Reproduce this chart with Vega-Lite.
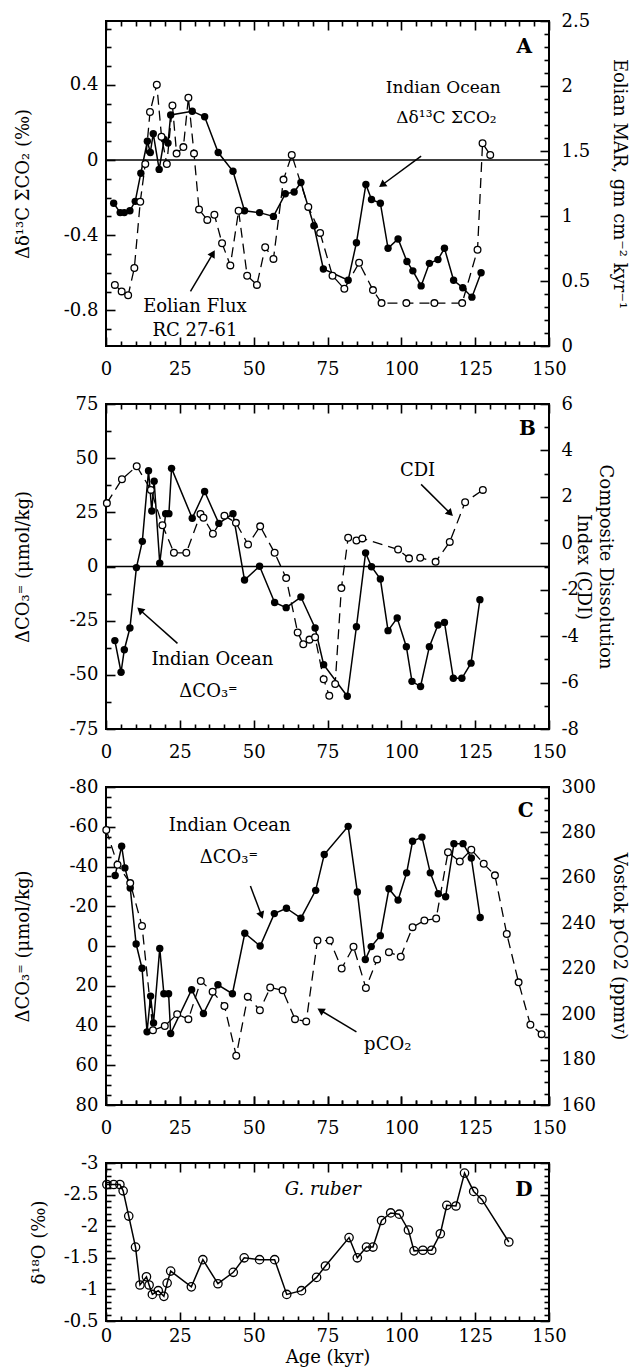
{
  "$schema": "https://vega.github.io/schema/vega-lite/v6.json",
  "padding": {"left": 13, "top": 11, "right": 5, "bottom": 5},
  "background": "white",
  "datasets": {
    "a_d13c": [{"age":2.6,"v":-0.23},{"age":4.8,"v":-0.28},{"age":6.2,"v":-0.28},{"age":8.1,"v":-0.27},{"age":9.9,"v":-0.22},{"age":11.8,"v":-0.07},{"age":14.0,"v":0.10},{"age":15.0,"v":0.04},{"age":16.0,"v":0.14},{"age":18.0,"v":-0.05},{"age":19.7,"v":0.11},{"age":21.0,"v":0.09},{"age":21.9,"v":0.24},{"age":29.2,"v":0.26},{"age":33.4,"v":0.23},{"age":38.0,"v":0.04},{"age":43.0,"v":-0.06},{"age":46.9,"v":-0.27},{"age":52.0,"v":-0.28},{"age":56.7,"v":-0.30},{"age":60.7,"v":-0.18},{"age":63.7,"v":-0.17},{"age":66.0,"v":-0.12},{"age":70.4,"v":-0.35},{"age":73.6,"v":-0.58},{"age":82.0,"v":-0.64},{"age":84.8,"v":-0.44},{"age":88.0,"v":-0.13},{"age":89.9,"v":-0.21},{"age":92.9,"v":-0.23},{"age":95.5,"v":-0.47},{"age":98.9,"v":-0.42},{"age":101.9,"v":-0.54},{"age":103.9,"v":-0.59},{"age":106.7,"v":-0.67},{"age":109.5,"v":-0.55},{"age":112.4,"v":-0.53},{"age":114.6,"v":-0.47},{"age":117.7,"v":-0.64},{"age":120.8,"v":-0.68},{"age":123.9,"v":-0.73},{"age":127.0,"v":-0.60}],
    "a_eol": [{"age":3.0,"v":0.47},{"age":5.3,"v":0.42},{"age":7.5,"v":0.39},{"age":9.6,"v":0.60},{"age":11.6,"v":1.11},{"age":13.3,"v":1.40},{"age":14.9,"v":1.80},{"age":17.2,"v":2.01},{"age":18.8,"v":1.61},{"age":20.6,"v":1.40},{"age":22.5,"v":1.85},{"age":23.9,"v":1.48},{"age":26.2,"v":1.53},{"age":27.9,"v":1.91},{"age":29.8,"v":1.48},{"age":31.5,"v":1.05},{"age":34.3,"v":0.97},{"age":36.7,"v":1.01},{"age":39.3,"v":0.79},{"age":42.1,"v":0.62},{"age":44.9,"v":1.04},{"age":47.8,"v":0.54},{"age":51.1,"v":0.47},{"age":53.9,"v":0.76},{"age":56.7,"v":0.67},{"age":60.1,"v":1.28},{"age":62.9,"v":1.47},{"age":68.5,"v":1.07},{"age":72.5,"v":0.87},{"age":76.7,"v":0.54},{"age":80.7,"v":0.44},{"age":85.7,"v":0.64},{"age":90.4,"v":0.43},{"age":93.3,"v":0.33},{"age":101.7,"v":0.33},{"age":111.2,"v":0.33},{"age":120.6,"v":0.33},{"age":125.8,"v":0.74},{"age":127.5,"v":1.56},{"age":130.1,"v":1.47}],
    "b_co3": [{"age":3.0,"v":-34.2},{"age":5.1,"v":-48.8},{"age":6.2,"v":-38.4},{"age":8.1,"v":-28.4},{"age":10.3,"v":-0.5},{"age":12.3,"v":11.6},{"age":14.4,"v":44.2},{"age":15.5,"v":25.6},{"age":16.3,"v":39.4},{"age":18.2,"v":1.5},{"age":20.2,"v":24.4},{"age":21.3,"v":24.4},{"age":22.2,"v":45.3},{"age":29.2,"v":22.3},{"age":33.4,"v":34.6},{"age":38.2,"v":19.9},{"age":43.0,"v":24.4},{"age":46.9,"v":-6.2},{"age":52.0,"v":0.1},{"age":57.1,"v":-16.6},{"age":61.0,"v":-19},{"age":66.0,"v":-14.1},{"age":70.8,"v":-28.4},{"age":73.7,"v":-45.3},{"age":81.7,"v":-59.9},{"age":84.8,"v":-27.8},{"age":87.9,"v":6.3},{"age":89.9,"v":-0.1},{"age":92.9,"v":-5.8},{"age":95.5,"v":-29.6},{"age":98.6,"v":-23.8},{"age":101.7,"v":-37},{"age":103.6,"v":-53},{"age":106.5,"v":-55.4},{"age":109.5,"v":-37},{"age":112.4,"v":-27},{"age":114.6,"v":-25.8},{"age":117.6,"v":-51.6},{"age":120.5,"v":-51.6},{"age":123.6,"v":-44.6},{"age":126.6,"v":-15.3}],
    "b_cdi": [{"age":0.3,"v":1.73},{"age":5.4,"v":2.76},{"age":10.4,"v":3.32},{"age":15.2,"v":2.3},{"age":19.1,"v":0.78},{"age":23.0,"v":-0.41},{"age":27.2,"v":-0.41},{"age":32.0,"v":1.26},{"age":33.0,"v":1.1},{"age":36.2,"v":0.41},{"age":40.1,"v":1.19},{"age":44.0,"v":0.88},{"age":48.1,"v":-0.05},{"age":52.2,"v":0.73},{"age":57.1,"v":-0.41},{"age":61.0,"v":-1.5},{"age":64.9,"v":-3.84},{"age":66.8,"v":-4.35},{"age":68.9,"v":-4.15},{"age":70.8,"v":-4.05},{"age":73.7,"v":-5.86},{"age":75.6,"v":-6.57},{"age":77.6,"v":-6.06},{"age":79.7,"v":-1.93},{"age":82.0,"v":0.24},{"age":84.8,"v":0.12},{"age":86.8,"v":0.21},{"age":98.9,"v":-0.27},{"age":102.6,"v":-0.65},{"age":106.4,"v":-0.62},{"age":111.6,"v":-0.8},{"age":116.4,"v":0.06},{"age":121.6,"v":1.77},{"age":127.6,"v":2.3}],
    "c_co3": [{"age":3.1,"v":-35.5},{"age":5.3,"v":-50.2},{"age":6.4,"v":-39.3},{"age":8.2,"v":-29.2},{"age":10.2,"v":-1},{"age":12.2,"v":11.2},{"age":13.9,"v":43.2},{"age":15.1,"v":25.2},{"age":16.1,"v":38.7},{"age":18.2,"v":1.2},{"age":19.6,"v":24},{"age":21.2,"v":24},{"age":21.9,"v":44},{"age":29.0,"v":22},{"age":33.0,"v":34},{"age":37.9,"v":19.5},{"age":42.8,"v":24},{"age":47.0,"v":-6.4},{"age":52.2,"v":0},{"age":57.0,"v":-16.3},{"age":61.1,"v":-19},{"age":66.0,"v":-14},{"age":71.0,"v":-28},{"age":73.9,"v":-46},{"age":82.0,"v":-60.2},{"age":85.1,"v":-27.2},{"age":87.8,"v":6.8},{"age":89.8,"v":0.3},{"age":92.9,"v":-5.2},{"age":95.8,"v":-28.8},{"age":98.9,"v":-23.1},{"age":101.8,"v":-36.8},{"age":103.8,"v":-52.7},{"age":107.0,"v":-54.8},{"age":109.8,"v":-36.8},{"age":112.5,"v":-26.3},{"age":115.0,"v":-24.8},{"age":117.8,"v":-51.5},{"age":120.9,"v":-51.5},{"age":123.7,"v":-44.3},{"age":126.7,"v":-14.3}],
    "c_pco2": [{"age":0.1,"v":281.1},{"age":3.9,"v":265.8},{"age":8.2,"v":257.7},{"age":12.2,"v":238.8},{"age":15.9,"v":192.9},{"age":19.9,"v":194.8},{"age":24.1,"v":200},{"age":27.9,"v":197.8},{"age":32.1,"v":214.6},{"age":36.1,"v":209.9},{"age":40.1,"v":203.6},{"age":44.1,"v":181.7},{"age":48.0,"v":207.7},{"age":52.1,"v":201.7},{"age":55.6,"v":211.7},{"age":59.8,"v":210.5},{"age":64.0,"v":197.8},{"age":67.8,"v":196.8},{"age":71.6,"v":232.4},{"age":75.8,"v":232.4},{"age":79.8,"v":220.1},{"age":83.8,"v":229.7},{"age":88.0,"v":211.5},{"age":91.8,"v":224.1},{"age":95.8,"v":227.3},{"age":99.8,"v":225.3},{"age":103.8,"v":238.3},{"age":107.8,"v":241.2},{"age":111.8,"v":242.1},{"age":115.8,"v":271.3},{"age":119.8,"v":267.2},{"age":123.7,"v":272.4},{"age":127.9,"v":266.2},{"age":131.7,"v":261.1},{"age":135.7,"v":235.3},{"age":139.7,"v":214},{"age":143.7,"v":195.3},{"age":147.5,"v":191.2}],
    "d_o18": [{"age":0.3,"v":-2.66},{"age":2.6,"v":-2.66},{"age":4.7,"v":-2.66},{"age":5.8,"v":-2.56},{"age":7.7,"v":-2.16},{"age":10.0,"v":-1.67},{"age":11.5,"v":-1.07},{"age":13.7,"v":-1.2},{"age":14.6,"v":-1.07},{"age":15.7,"v":-0.92},{"age":17.7,"v":-0.98},{"age":19.6,"v":-0.89},{"age":20.7,"v":-1.1},{"age":21.9,"v":-1.29},{"age":28.9,"v":-1.04},{"age":32.8,"v":-1.47},{"age":37.9,"v":-1.09},{"age":43.1,"v":-1.27},{"age":46.8,"v":-1.5},{"age":52.0,"v":-1.47},{"age":57.1,"v":-1.47},{"age":61.2,"v":-0.92},{"age":66.2,"v":-0.98},{"age":71.3,"v":-1.19},{"age":74.3,"v":-1.37},{"age":82.3,"v":-1.82},{"age":85.1,"v":-1.5},{"age":88.2,"v":-1.67},{"age":90.4,"v":-1.67},{"age":93.3,"v":-2.09},{"age":96.4,"v":-2.21},{"age":99.3,"v":-2.19},{"age":102.4,"v":-1.94},{"age":104.3,"v":-1.61},{"age":107.3,"v":-1.62},{"age":110.3,"v":-1.62},{"age":113.2,"v":-1.88},{"age":115.4,"v":-2.33},{"age":118.5,"v":-2.32},{"age":121.4,"v":-2.84},{"age":124.5,"v":-2.55},{"age":127.3,"v":-2.42},{"age":136.4,"v":-1.75}]
  },
  "spacing": 58,
  "bounds": "flush",
  "vconcat": [
    {
      "width": 443, "height": 325,
      "resolve": {"scale": {"y": "independent"}, "axis": {"x": "independent", "y": "independent"}},
      "layer": [
        {"layer": [
          {"data": {"name": "a_d13c"}, "mark": {"type": "line", "color": "black", "strokeWidth": 1.5},
           "encoding": {
             "x": {"field": "age", "type": "quantitative", "scale": {"domain": [0, 150], "nice": false},
                   "axis": {"orient": "bottom", "title": null, "values": [0,5,10,15,20,25,30,35,40,45,50,55,60,65,70,75,80,85,90,95,100,105,110,115,120,125,130,135,140,145,150], "tickCount": 100, "labelExpr": "datum.value % 25 === 0 ? toString(datum.value) : ''", "labelPadding": 14, "grid": true, "gridDash": {"condition": {"test": "datum.value % 25 === 0", "value": [9, 2000]}, "value": [5, 2000]}}},
             "y": {"field": "v", "type": "quantitative", "scale": {"domain": [-0.99, 0.74], "nice": false, "zero": false},
                   "axis": {"orient": "left", "title": "Δδ¹³C ΣCO₂ (‰)", "titleX": -83, "titleBaseline": "middle", "values": [-0.9,-0.8,-0.7,-0.6,-0.5,-0.4,-0.3,-0.2,-0.1,0,0.1,0.2,0.3,0.4,0.5,0.6,0.7], "tickCount": 100, "labelExpr": "abs(datum.value/0.4 - round(datum.value/0.4)) < 0.000001 ? toString(datum.value) : ''", "labelPadding": 8, "grid": true, "gridDash": {"condition": {"test": "abs(datum.value/0.4 - round(datum.value/0.4)) < 0.000001", "value": [9, 2000]}, "value": [5, 2000]}}}
           }},
          {"data": {"name": "a_d13c"}, "mark": {"type": "point", "filled": true, "color": "black", "size": 55, "opacity": 1},
           "encoding": {"x": {"field": "age", "type": "quantitative"}, "y": {"field": "v", "type": "quantitative"}}},
          {"data": {"values": [{}]}, "mark": {"type": "rule", "color": "black", "strokeWidth": 1.5}, "encoding": {"y": {"datum": 0, "type": "quantitative"}}},
          {"data": {"values": [{}]}, "mark": {"type": "text", "text": "Indian Ocean", "fontSize": 17}, "encoding": {"x": {"datum": 114.2, "type": "quantitative"}, "y": {"datum": 0.382, "type": "quantitative"}}},
          {"data": {"values": [{}]}, "mark": {"type": "text", "text": "Δδ¹³C ΣCO₂", "fontSize": 17}, "encoding": {"x": {"datum": 115.3, "type": "quantitative"}, "y": {"datum": 0.226, "type": "quantitative"}}},
          {"data": {"values": [{}]}, "mark": {"type": "text", "text": "Eolian Flux", "fontSize": 18}, "encoding": {"x": {"datum": 30.1, "type": "quantitative"}, "y": {"datum": -0.784, "type": "quantitative"}}},
          {"data": {"values": [{}]}, "mark": {"type": "text", "text": "RC 27-61", "fontSize": 18}, "encoding": {"x": {"datum": 30.1, "type": "quantitative"}, "y": {"datum": -0.912, "type": "quantitative"}}},
          {"data": {"values": [{}]}, "mark": {"type": "text", "text": "A", "fontSize": 20, "fontWeight": "bold"}, "encoding": {"x": {"datum": 141.6, "type": "quantitative"}, "y": {"datum": 0.599, "type": "quantitative"}}},
          {"data": {"values": [{}]}, "mark": {"type": "rule", "color": "black", "strokeWidth": 1.5}, "encoding": {"x": {"datum": 106.7, "type": "quantitative"}, "y": {"datum": 0.021, "type": "quantitative"}, "x2": {"datum": 93.8}, "y2": {"datum": -0.129}}},
          {"data": {"values": [{}]}, "mark": {"type": "point", "shape": "triangle", "angle": 233.6, "filled": true, "color": "black", "size": 70, "opacity": 1}, "encoding": {"x": {"datum": 93.8, "type": "quantitative"}, "y": {"datum": -0.129, "type": "quantitative"}}},
          {"data": {"values": [{}]}, "mark": {"type": "rule", "color": "black", "strokeWidth": 1.5}, "encoding": {"x": {"datum": 28.6, "type": "quantitative"}, "y": {"datum": -0.699, "type": "quantitative"}, "x2": {"datum": 36.0}, "y2": {"datum": -0.503}}},
          {"data": {"values": [{}]}, "mark": {"type": "point", "shape": "triangle", "angle": 30.6, "filled": true, "color": "black", "size": 70, "opacity": 1}, "encoding": {"x": {"datum": 36.0, "type": "quantitative"}, "y": {"datum": -0.503, "type": "quantitative"}}}
        ]},
        {"layer": [
          {"data": {"name": "a_eol"}, "mark": {"type": "line", "color": "black", "strokeWidth": 1.3, "strokeDash": [10, 6]},
           "encoding": {
             "x": {"field": "age", "type": "quantitative", "scale": {"domain": [0, 150], "nice": false},
                   "axis": {"orient": "top", "title": null, "labels": false, "values": [0,5,10,15,20,25,30,35,40,45,50,55,60,65,70,75,80,85,90,95,100,105,110,115,120,125,130,135,140,145,150], "tickCount": 100, "grid": true, "gridDash": {"condition": {"test": "datum.value % 25 === 0", "value": [9, 2000]}, "value": [5, 2000]}}},
             "y": {"field": "v", "type": "quantitative", "scale": {"domain": [0, 2.5], "nice": false},
                   "axis": {"orient": "right", "title": "Eolian MAR, gm cm⁻² kyr⁻¹", "titleX": 69, "titleBaseline": "middle", "titleAngle": 90, "values": [0,0.1,0.2,0.3,0.4,0.5,0.6,0.7,0.8,0.9,1,1.1,1.2,1.3,1.4,1.5,1.6,1.7,1.8,1.9,2,2.1,2.2,2.3,2.4,2.5], "tickCount": 100, "labelExpr": "abs(datum.value*2 - round(datum.value*2)) < 0.000001 ? toString(datum.value) : ''", "labelPadding": 12, "grid": true, "gridDash": {"condition": {"test": "abs(datum.value*2 - round(datum.value*2)) < 0.000001", "value": [9, 2000]}, "value": [5, 2000]}}}
           }},
          {"data": {"name": "a_eol"}, "mark": {"type": "point", "filled": true, "fill": "white", "stroke": "black", "strokeWidth": 1.3, "size": 45, "opacity": 1},
           "encoding": {"x": {"field": "age", "type": "quantitative"}, "y": {"field": "v", "type": "quantitative"}}}
        ]}
      ]
    },
    {
      "width": 443, "height": 325,
      "resolve": {"scale": {"y": "independent"}, "axis": {"x": "independent", "y": "independent"}},
      "layer": [
        {"layer": [
          {"data": {"name": "b_co3"}, "mark": {"type": "line", "color": "black", "strokeWidth": 1.5},
           "encoding": {
             "x": {"field": "age", "type": "quantitative", "scale": {"domain": [0, 150], "nice": false},
                   "axis": {"orient": "bottom", "title": null, "values": [0,5,10,15,20,25,30,35,40,45,50,55,60,65,70,75,80,85,90,95,100,105,110,115,120,125,130,135,140,145,150], "tickCount": 100, "labelExpr": "datum.value % 25 === 0 ? toString(datum.value) : ''", "labelPadding": 14, "grid": true, "gridDash": {"condition": {"test": "datum.value % 25 === 0", "value": [9, 2000]}, "value": [5, 2000]}}},
             "y": {"field": "v", "type": "quantitative", "scale": {"domain": [-75, 75], "nice": false},
                   "axis": {"orient": "left", "title": "ΔCO₃⁼ (μmol/kg)", "titleX": -83, "titleBaseline": "middle", "values": [-75,-62.5,-50,-37.5,-25,-12.5,0,12.5,25,37.5,50,62.5,75], "tickCount": 100, "labelExpr": "datum.value % 25 === 0 ? toString(datum.value) : ''", "labelPadding": 8, "grid": true, "gridDash": {"condition": {"test": "datum.value % 25 === 0", "value": [9, 2000]}, "value": [5, 2000]}}}
           }},
          {"data": {"name": "b_co3"}, "mark": {"type": "point", "filled": true, "color": "black", "size": 55, "opacity": 1},
           "encoding": {"x": {"field": "age", "type": "quantitative"}, "y": {"field": "v", "type": "quantitative"}}},
          {"data": {"values": [{}]}, "mark": {"type": "rule", "color": "black", "strokeWidth": 1.5}, "encoding": {"y": {"datum": 0, "type": "quantitative"}}},
          {"data": {"values": [{}]}, "mark": {"type": "text", "text": "B", "fontSize": 20, "fontWeight": "bold"}, "encoding": {"x": {"datum": 142.7, "type": "quantitative"}, "y": {"datum": 63.3, "type": "quantitative"}}},
          {"data": {"values": [{}]}, "mark": {"type": "text", "text": "CDI", "fontSize": 18}, "encoding": {"x": {"datum": 105.5, "type": "quantitative"}, "y": {"datum": 44.2, "type": "quantitative"}}},
          {"data": {"values": [{}]}, "mark": {"type": "text", "text": "Indian Ocean", "fontSize": 18}, "encoding": {"x": {"datum": 36.0, "type": "quantitative"}, "y": {"datum": -43.3, "type": "quantitative"}}},
          {"data": {"values": [{}]}, "mark": {"type": "text", "text": "ΔCO₃⁼", "fontSize": 18}, "encoding": {"x": {"datum": 34.7, "type": "quantitative"}, "y": {"datum": -58.1, "type": "quantitative"}}},
          {"data": {"values": [{}]}, "mark": {"type": "rule", "color": "black", "strokeWidth": 1.5}, "encoding": {"x": {"datum": 106.7, "type": "quantitative"}, "y": {"datum": 37.9, "type": "quantitative"}, "x2": {"datum": 116.3}, "y2": {"datum": 24.9}}},
          {"data": {"values": [{}]}, "mark": {"type": "point", "shape": "triangle", "angle": 135, "filled": true, "color": "black", "size": 70, "opacity": 1}, "encoding": {"x": {"datum": 116.3, "type": "quantitative"}, "y": {"datum": 24.9, "type": "quantitative"}}},
          {"data": {"values": [{}]}, "mark": {"type": "rule", "color": "black", "strokeWidth": 1.5}, "encoding": {"x": {"datum": 24.2, "type": "quantitative"}, "y": {"datum": -35.5, "type": "quantitative"}, "x2": {"datum": 11.8}, "y2": {"datum": -20.4}}},
          {"data": {"values": [{}]}, "mark": {"type": "point", "shape": "triangle", "angle": 311.7, "filled": true, "color": "black", "size": 70, "opacity": 1}, "encoding": {"x": {"datum": 11.8, "type": "quantitative"}, "y": {"datum": -20.4, "type": "quantitative"}}}
        ]},
        {"layer": [
          {"data": {"name": "b_cdi"}, "mark": {"type": "line", "color": "black", "strokeWidth": 1.3, "strokeDash": [10, 6]},
           "encoding": {
             "x": {"field": "age", "type": "quantitative", "scale": {"domain": [0, 150], "nice": false},
                   "axis": {"orient": "top", "title": null, "labels": false, "values": [0,5,10,15,20,25,30,35,40,45,50,55,60,65,70,75,80,85,90,95,100,105,110,115,120,125,130,135,140,145,150], "tickCount": 100, "grid": true, "gridDash": {"condition": {"test": "datum.value % 25 === 0", "value": [9, 2000]}, "value": [5, 2000]}}},
             "y": {"field": "v", "type": "quantitative", "scale": {"domain": [-8, 6], "nice": false, "zero": false},
                   "axis": {"orient": "right", "title": ["Composite Dissolution", "Index (CDI)"], "titleX": 55, "titleBaseline": "middle", "titleAngle": 90, "titleLineHeight": 22, "values": [-8,-7,-6,-5,-4,-3,-2,-1,0,1,2,3,4,5,6], "tickCount": 100, "labelExpr": "datum.value % 2 === 0 ? toString(datum.value) : ''", "labelPadding": 12, "grid": true, "gridDash": {"condition": {"test": "datum.value % 2 === 0", "value": [9, 2000]}, "value": [5, 2000]}}}
           }},
          {"data": {"name": "b_cdi"}, "mark": {"type": "point", "filled": true, "fill": "white", "stroke": "black", "strokeWidth": 1.3, "size": 45, "opacity": 1},
           "encoding": {"x": {"field": "age", "type": "quantitative"}, "y": {"field": "v", "type": "quantitative"}}}
        ]}
      ]
    },
    {
      "width": 443, "height": 318,
      "resolve": {"scale": {"y": "independent"}, "axis": {"x": "independent", "y": "independent"}},
      "layer": [
        {"layer": [
          {"data": {"name": "c_co3"}, "mark": {"type": "line", "color": "black", "strokeWidth": 1.5},
           "encoding": {
             "x": {"field": "age", "type": "quantitative", "scale": {"domain": [0, 150], "nice": false},
                   "axis": {"orient": "bottom", "title": null, "values": [0,5,10,15,20,25,30,35,40,45,50,55,60,65,70,75,80,85,90,95,100,105,110,115,120,125,130,135,140,145,150], "tickCount": 100, "labelExpr": "datum.value % 25 === 0 ? toString(datum.value) : ''", "labelPadding": 14, "grid": true, "gridDash": {"condition": {"test": "datum.value % 25 === 0", "value": [9, 2000]}, "value": [5, 2000]}}},
             "y": {"field": "v", "type": "quantitative", "scale": {"domain": [-80, 80], "nice": false, "reverse": true},
                   "axis": {"orient": "left", "title": "ΔCO₃⁼ (μmol/kg)", "titleX": -83, "titleBaseline": "middle", "values": [-80,-75,-70,-65,-60,-55,-50,-45,-40,-35,-30,-25,-20,-15,-10,-5,0,5,10,15,20,25,30,35,40,45,50,55,60,65,70,75,80], "tickCount": 100, "labelExpr": "datum.value % 20 === 0 ? toString(datum.value) : ''", "labelPadding": 8, "grid": true, "gridDash": {"condition": {"test": "datum.value % 20 === 0", "value": [9, 2000]}, "value": [5, 2000]}}}
           }},
          {"data": {"name": "c_co3"}, "mark": {"type": "point", "filled": true, "color": "black", "size": 55, "opacity": 1},
           "encoding": {"x": {"field": "age", "type": "quantitative"}, "y": {"field": "v", "type": "quantitative"}}},
          {"data": {"values": [{}]}, "mark": {"type": "text", "text": "C", "fontSize": 20, "fontWeight": "bold"}, "encoding": {"x": {"datum": 142.1, "type": "quantitative"}, "y": {"datum": -67.7, "type": "quantitative"}}},
          {"data": {"values": [{}]}, "mark": {"type": "text", "text": "Indian Ocean", "fontSize": 18}, "encoding": {"x": {"datum": 41.9, "type": "quantitative"}, "y": {"datum": -60.2, "type": "quantitative"}}},
          {"data": {"values": [{}]}, "mark": {"type": "text", "text": "ΔCO₃⁼", "fontSize": 18}, "encoding": {"x": {"datum": 41.6, "type": "quantitative"}, "y": {"datum": -44.4, "type": "quantitative"}}},
          {"data": {"values": [{}]}, "mark": {"type": "text", "text": "pCO₂", "fontSize": 18}, "encoding": {"x": {"datum": 95.4, "type": "quantitative"}, "y": {"datum": 49.9, "type": "quantitative"}}},
          {"data": {"values": [{}]}, "mark": {"type": "rule", "color": "black", "strokeWidth": 1.5}, "encoding": {"x": {"datum": 48.9, "type": "quantitative"}, "y": {"datum": -30.2, "type": "quantitative"}, "x2": {"datum": 52.5}, "y2": {"datum": -16}}},
          {"data": {"values": [{}]}, "mark": {"type": "point", "shape": "triangle", "angle": 159.3, "filled": true, "color": "black", "size": 70, "opacity": 1}, "encoding": {"x": {"datum": 52.5, "type": "quantitative"}, "y": {"datum": -16, "type": "quantitative"}}},
          {"data": {"values": [{}]}, "mark": {"type": "rule", "color": "black", "strokeWidth": 1.5}, "encoding": {"x": {"datum": 84.8, "type": "quantitative"}, "y": {"datum": 43.2, "type": "quantitative"}, "x2": {"datum": 73.0}, "y2": {"datum": 32.7}}},
          {"data": {"values": [{}]}, "mark": {"type": "point", "shape": "triangle", "angle": 301, "filled": true, "color": "black", "size": 70, "opacity": 1}, "encoding": {"x": {"datum": 73.0, "type": "quantitative"}, "y": {"datum": 32.7, "type": "quantitative"}}}
        ]},
        {"layer": [
          {"data": {"name": "c_pco2"}, "mark": {"type": "line", "color": "black", "strokeWidth": 1.3, "strokeDash": [10, 6]},
           "encoding": {
             "x": {"field": "age", "type": "quantitative", "scale": {"domain": [0, 150], "nice": false},
                   "axis": {"orient": "top", "title": null, "labels": false, "values": [0,5,10,15,20,25,30,35,40,45,50,55,60,65,70,75,80,85,90,95,100,105,110,115,120,125,130,135,140,145,150], "tickCount": 100, "grid": true, "gridDash": {"condition": {"test": "datum.value % 25 === 0", "value": [9, 2000]}, "value": [5, 2000]}}},
             "y": {"field": "v", "type": "quantitative", "scale": {"domain": [160, 300], "nice": false, "zero": false},
                   "axis": {"orient": "right", "title": "Vostok pCO2 (ppmv)", "titleX": 69, "titleBaseline": "middle", "titleAngle": 90, "values": [160,165,170,175,180,185,190,195,200,205,210,215,220,225,230,235,240,245,250,255,260,265,270,275,280,285,290,295,300], "tickCount": 100, "labelExpr": "datum.value % 20 === 0 ? toString(datum.value) : ''", "labelPadding": 12, "grid": true, "gridDash": {"condition": {"test": "datum.value % 20 === 0", "value": [9, 2000]}, "value": [5, 2000]}}}
           }},
          {"data": {"name": "c_pco2"}, "mark": {"type": "point", "filled": true, "fill": "white", "stroke": "black", "strokeWidth": 1.3, "size": 45, "opacity": 1},
           "encoding": {"x": {"field": "age", "type": "quantitative"}, "y": {"field": "v", "type": "quantitative"}}}
        ]}
      ]
    },
    {
      "width": 443, "height": 158,
      "resolve": {"axis": {"x": "independent", "y": "independent"}},
      "layer": [
        {"layer": [
          {"data": {"name": "d_o18"}, "mark": {"type": "line", "color": "black", "strokeWidth": 1.5},
           "encoding": {
             "x": {"field": "age", "type": "quantitative", "scale": {"domain": [0, 150], "nice": false},
                   "axis": {"orient": "bottom", "title": "Age (kyr)", "titleY": 36, "titleBaseline": "middle", "values": [0,5,10,15,20,25,30,35,40,45,50,55,60,65,70,75,80,85,90,95,100,105,110,115,120,125,130,135,140,145,150], "tickCount": 100, "labelExpr": "datum.value % 25 === 0 ? toString(datum.value) : ''", "labelPadding": 6, "grid": true, "gridDash": {"condition": {"test": "datum.value % 25 === 0", "value": [9, 2000]}, "value": [5, 2000]}}},
             "y": {"field": "v", "type": "quantitative", "scale": {"domain": [-3, -0.5], "nice": false, "zero": false, "reverse": true},
                   "axis": {"orient": "left", "title": "δ¹⁸O (‰)", "titleX": -67, "titleBaseline": "middle", "values": [-3,-2.9,-2.8,-2.7,-2.6,-2.5,-2.4,-2.3,-2.2,-2.1,-2,-1.9,-1.8,-1.7,-1.6,-1.5,-1.4,-1.3,-1.2,-1.1,-1,-0.9,-0.8,-0.7,-0.6,-0.5], "tickCount": 100, "labelExpr": "abs(datum.value*2 - round(datum.value*2)) < 0.000001 ? toString(datum.value) : ''", "labelPadding": 8, "grid": true, "gridDash": {"condition": {"test": "abs(datum.value*2 - round(datum.value*2)) < 0.000001", "value": [9, 2000]}, "value": [5, 2000]}}}
           }},
          {"data": {"values": [{}]}, "mark": {"type": "text", "text": "G. ruber", "fontSize": 18, "fontStyle": "italic"}, "encoding": {"x": {"datum": 73.4, "type": "quantitative"}, "y": {"datum": -2.57, "type": "quantitative"}}},
          {"data": {"values": [{}]}, "mark": {"type": "text", "text": "D", "fontSize": 20, "fontWeight": "bold"}, "encoding": {"x": {"datum": 141.5, "type": "quantitative"}, "y": {"datum": -2.57, "type": "quantitative"}}}
        ]},
        {"data": {"name": "d_o18"}, "mark": {"type": "point", "filled": false, "color": "black", "strokeWidth": 1.3, "size": 70, "opacity": 1},
         "encoding": {
           "x": {"field": "age", "type": "quantitative",
                 "axis": {"orient": "top", "title": null, "labels": false, "values": [0,5,10,15,20,25,30,35,40,45,50,55,60,65,70,75,80,85,90,95,100,105,110,115,120,125,130,135,140,145,150], "tickCount": 100, "grid": true, "gridDash": {"condition": {"test": "datum.value % 25 === 0", "value": [9, 2000]}, "value": [5, 2000]}}},
           "y": {"field": "v", "type": "quantitative",
                 "axis": {"orient": "right", "title": null, "labels": false, "values": [-3,-2.9,-2.8,-2.7,-2.6,-2.5,-2.4,-2.3,-2.2,-2.1,-2,-1.9,-1.8,-1.7,-1.6,-1.5,-1.4,-1.3,-1.2,-1.1,-1,-0.9,-0.8,-0.7,-0.6,-0.5], "tickCount": 100, "grid": true, "gridDash": {"condition": {"test": "abs(datum.value*2 - round(datum.value*2)) < 0.000001", "value": [9, 2000]}, "value": [5, 2000]}}}
         }}
      ]
    }
  ],
  "config": {
    "font": "DejaVu Serif",
    "view": {"stroke": "black", "strokeWidth": 2},
    "text": {"font": "DejaVu Serif", "color": "black"},
    "axis": {"domain": false, "ticks": false, "gridColor": "black", "gridOpacity": 1, "gridWidth": 1.6, "labelFont": "DejaVu Serif", "labelFontSize": 18, "labelColor": "black", "titleFont": "DejaVu Serif", "titleFontSize": 18, "titleFontWeight": "normal", "titleColor": "black", "labelFlush": false, "labelBound": false, "labelOverlap": false}
  }
}
